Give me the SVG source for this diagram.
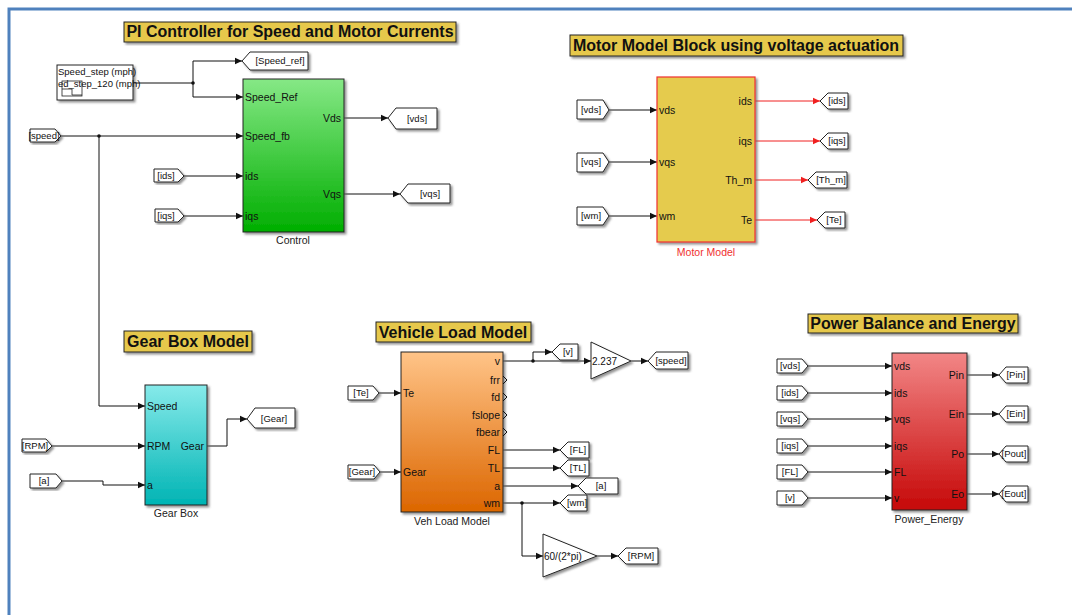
<svg xmlns="http://www.w3.org/2000/svg" width="1072" height="615" viewBox="0 0 1072 615">
<style>
text{font-family:"Liberation Sans",Arial,sans-serif;fill:#111}
.t{font-weight:bold;font-size:16px;text-anchor:middle}
.tb{fill:#E6C84C;stroke:#222;stroke-width:1}
.p{font-size:10.5px}
.pr{font-size:10.5px;text-anchor:end}
.cap{font-size:10.5px;text-anchor:middle;fill:#222}
.tag{fill:#fff;stroke:#222;stroke-width:1}
.tg{font-size:9.5px;text-anchor:middle}
.w{fill:none;stroke:#111;stroke-width:1}
.wa{fill:none;stroke:#111;stroke-width:1;marker-end:url(#ar)}
.wr{fill:none;stroke:#F02020;stroke-width:1;marker-end:url(#arr)}
.blk{stroke:#222;stroke-width:1}
.sh{filter:url(#ds)}
</style>
<defs>
<marker id="ar" markerWidth="8" markerHeight="8" refX="7" refY="4" orient="auto" markerUnits="userSpaceOnUse"><path d="M0,0.8 L7,4 L0,7.2 z" fill="#111"/></marker>
<marker id="arr" markerWidth="8" markerHeight="8" refX="7" refY="4" orient="auto" markerUnits="userSpaceOnUse"><path d="M0,0.8 L7,4 L0,7.2 z" fill="#F02020"/></marker>
<filter id="ds" x="-10%" y="-10%" width="130%" height="130%"><feDropShadow dx="2" dy="2" stdDeviation="1" flood-color="#666" flood-opacity="0.7"/></filter>
<linearGradient id="gG" x1="0" y1="0" x2="0" y2="1"><stop offset="0" stop-color="#86E886"/><stop offset="1" stop-color="#00AE00"/></linearGradient>
<linearGradient id="gC" x1="0" y1="0" x2="0" y2="1"><stop offset="0" stop-color="#86EAEA"/><stop offset="1" stop-color="#00B4B4"/></linearGradient>
<linearGradient id="gO" x1="0" y1="0" x2="0" y2="1"><stop offset="0" stop-color="#FFC488"/><stop offset="1" stop-color="#DC6600"/></linearGradient>
<linearGradient id="gR" x1="0" y1="0" x2="0" y2="1"><stop offset="0" stop-color="#F28686"/><stop offset="1" stop-color="#C60808"/></linearGradient>
</defs>
<rect width="1072" height="615" fill="#fff"/>
<path d="M9,615 V9 H1072" fill="none" stroke="#4F81BD" stroke-width="3"/>

<g id="titles">
<rect class="tb sh" x="124" y="22" width="332" height="20"/><text class="t" x="290" y="37">PI Controller for Speed and Motor Currents</text>
<rect class="tb sh" x="570" y="35" width="333" height="21"/><text class="t" x="736" y="51">Motor Model Block using voltage actuation</text>
<rect class="tb sh" x="124" y="331" width="128" height="21"/><text class="t" x="188" y="347">Gear Box Model</text>
<rect class="tb sh" x="376" y="322" width="155" height="20"/><text class="t" x="453" y="338">Vehicle Load Model</text>
<rect class="tb sh" x="808" y="314" width="210" height="19"/><text class="t" x="913" y="329">Power Balance and Energy</text>
</g>

<g id="connectors">
<path class="w" d="M133,83 H193"/>
<path class="wa" d="M193,83 V61 H242"/>
<path class="wa" d="M193,83 V97 H243"/>
<circle cx="193" cy="83" r="1.8" fill="#111"/>
<path class="wa" d="M344,118 H388"/>
<path class="wa" d="M344,194 H400"/>
<path class="wa" d="M61,136 H243"/>
<path class="wa" d="M99,136 V406 H145"/>
<circle cx="99" cy="136" r="1.8" fill="#111"/>
<path class="wa" d="M184,176 H243"/>
<path class="wa" d="M184,216 H243"/>
<path class="wa" d="M609,110 H657"/>
<path class="wa" d="M609,162 H657"/>
<path class="wa" d="M609,216 H657"/>
<path class="wr" d="M755,101 H820"/>
<path class="wr" d="M755,141 H820"/>
<path class="wr" d="M755,180 H808"/>
<path class="wr" d="M755,220 H817"/>
<path class="wa" d="M52,446 H145"/>
<path class="wa" d="M62,481 H103 V485 H145"/>
<path class="wa" d="M207,446 H227 V419 H247"/>
<path class="wa" d="M379,393 H401"/>
<path class="wa" d="M380,472 H401"/>
<path class="wa" d="M503,361 H591"/>
<path class="wa" d="M533,361 V352 H552"/>
<circle cx="533" cy="361" r="1.8" fill="#111"/>
<path class="wa" d="M631,361 H648"/>
<path class="wa" d="M503,450 H560"/>
<path class="wa" d="M503,468 H560"/>
<path class="wa" d="M503,486 H578"/>
<path class="wa" d="M503,503 H560"/>
<path class="wa" d="M522,503 V556 H543"/>
<circle cx="522" cy="503" r="1.8" fill="#111"/>
<path class="wa" d="M597,556 H618"/>
<path class="wa" d="M808,366 H892"/>
<path class="wa" d="M808,393 H892"/>
<path class="wa" d="M808,419 H892"/>
<path class="wa" d="M808,446 H892"/>
<path class="wa" d="M808,472 H892"/>
<path class="wa" d="M808,498 H892"/>
<path class="wa" d="M967,375 H999"/>
<path class="wa" d="M967,414 H999"/>
<path class="wa" d="M967,454 H999"/>
<path class="wa" d="M967,494 H999"/>
</g>

<g id="signal_builder">
<rect class="sh" x="57" y="65" width="76" height="35" fill="#fff" stroke="#222"/>
<text x="58" y="75" style="font-size:9.5px">Speed_step (mph)</text>
<text x="58" y="87" style="font-size:9.5px">ed_step_120 (mph)</text>
<rect x="62" y="81" width="20" height="15" fill="none" stroke="#222" stroke-width="0.8"/>
<path d="M62,89 H72 V95 H82" fill="none" stroke="#222" stroke-width="0.8"/>
</g>

<g id="control">
<rect class="blk sh" x="243" y="79" width="101" height="153" fill="url(#gG)"/>
<text class="p" x="245" y="101">Speed_Ref</text>
<text class="p" x="245" y="140">Speed_fb</text>
<text class="p" x="245" y="180">ids</text>
<text class="p" x="245" y="220">iqs</text>
<text class="pr" x="341" y="122">Vds</text>
<text class="pr" x="341" y="198">Vqs</text>
<text class="cap" x="293" y="244">Control</text>
</g>

<g id="pi_tags">
<polygon class="tag sh" points="242,61 250,52 308,52 308,70 250,70"/><text class="tg" x="280" y="64">[Speed_ref]</text>
<polygon class="tag sh" points="388,118 396,108 437,108 437,129 396,129"/><text class="tg" x="417" y="122">[vds]</text>
<polygon class="tag sh" points="400,194 408,184 450,184 450,203 408,203"/><text class="tg" x="430" y="197">[vqs]</text>
<polygon class="tag sh" points="30,129 55,129 61,136 55,142 30,142"/><text class="tg" x="44" y="139">[speed]</text>
<polygon class="tag sh" points="154,169 178,169 184,176 178,182 154,182"/><text class="tg" x="166" y="179">[ids]</text>
<polygon class="tag sh" points="155,209 178,209 184,216 178,222 155,222"/><text class="tg" x="166" y="219">[iqs]</text>
</g>

<g id="motor_model">
<rect class="sh" x="657" y="77" width="98" height="165" fill="#E5CB4D" stroke="#F03030" stroke-width="1.2"/>
<text class="p" x="659" y="114">vds</text>
<text class="p" x="659" y="166">vqs</text>
<text class="p" x="659" y="220">wm</text>
<text class="pr" x="752" y="105">ids</text>
<text class="pr" x="752" y="145">iqs</text>
<text class="pr" x="752" y="184">Th_m</text>
<text class="pr" x="752" y="224">Te</text>
<text class="cap" x="706" y="256" style="fill:#F03030">Motor Model</text>
</g>

<g id="motor_tags">
<polygon class="tag sh" points="577,100 603,100 609,110 603,119 577,119"/><text class="tg" x="591" y="113">[vds]</text>
<polygon class="tag sh" points="577,153 603,153 609,162 603,172 577,172"/><text class="tg" x="591" y="165">[vqs]</text>
<polygon class="tag sh" points="577,207 603,207 609,216 603,225 577,225"/><text class="tg" x="591" y="219">[wm]</text>
<polygon class="tag sh" points="820,101 828,93 848,93 848,109 828,109"/><text class="tg" x="837" y="104">[ids]</text>
<polygon class="tag sh" points="820,141 828,133 848,133 848,149 828,149"/><text class="tg" x="837" y="144">[iqs]</text>
<polygon class="tag sh" points="808,180 816,172 847,172 847,188 816,188"/><text class="tg" x="831" y="183">[Th_m]</text>
<polygon class="tag sh" points="817,220 825,212 845,212 845,228 825,228"/><text class="tg" x="834" y="223">[Te]</text>
</g>

<g id="gear_box">
<rect class="blk sh" x="145" y="385" width="62" height="120" fill="url(#gC)"/>
<text class="p" x="147" y="410">Speed</text>
<text class="p" x="147" y="450">RPM</text>
<text class="p" x="147" y="489">a</text>
<text class="pr" x="204" y="450">Gear</text>
<text class="cap" x="176" y="517">Gear Box</text>
</g>

<g id="gear_tags">
<polygon class="tag sh" points="22,439 46,439 52,446 46,452 22,452"/><text class="tg" x="35" y="449">[RPM]</text>
<polygon class="tag sh" points="30,474 56,474 62,481 56,488 30,488"/><text class="tg" x="44" y="484">[a]</text>
<polygon class="tag sh" points="247,419 255,408 295,408 295,428 255,428"/><text class="tg" x="274" y="422">[Gear]</text>
</g>

<g id="veh_load_model">
<rect class="blk sh" x="401" y="352" width="102" height="160" fill="url(#gO)"/>
<text class="p" x="403" y="397">Te</text>
<text class="p" x="403" y="476">Gear</text>
<text class="pr" x="500" y="365">v</text>
<text class="pr" x="500" y="384">frr</text>
<text class="pr" x="500" y="401">fd</text>
<text class="pr" x="500" y="419">fslope</text>
<text class="pr" x="500" y="436">fbear</text>
<text class="pr" x="500" y="454">FL</text>
<text class="pr" x="500" y="472">TL</text>
<text class="pr" x="500" y="490">a</text>
<text class="pr" x="500" y="507">wm</text>
<path d="M503,376 L507,380 L503,384 M503,393 L507,397 L503,401 M503,411 L507,415 L503,419 M503,428 L507,432 L503,436" fill="none" stroke="#111"/>
<text class="cap" x="452" y="525">Veh Load Model</text>
</g>

<g id="gain_2237">
<polygon class="sh" points="591,342 631,361 591,379" fill="#fff" stroke="#222"/>
<text x="592" y="365" style="font-size:10px">2.237</text>
</g>

<g id="gain_rpm">
<polygon class="sh" points="543,534 597,556 543,577" fill="#fff" stroke="#222"/>
<text x="544" y="560" style="font-size:10px">60/(2*pi)</text>
</g>

<g id="veh_tags">
<polygon class="tag sh" points="348,386 373,386 379,393 373,400 348,400"/><text class="tg" x="361" y="396">[Te]</text>
<polygon class="tag sh" points="348,465 374,465 380,472 374,479 348,479"/><text class="tg" x="362" y="475">[Gear]</text>
<polygon class="tag sh" points="552,352 560,344 578,344 578,360 560,360"/><text class="tg" x="568" y="355">[v]</text>
<polygon class="tag sh" points="648,361 656,352 688,352 688,369 656,369"/><text class="tg" x="671" y="364">[speed]</text>
<polygon class="tag sh" points="560,450 568,442 589,442 589,458 568,458"/><text class="tg" x="578" y="453">[FL]</text>
<polygon class="tag sh" points="560,468 568,460 589,460 589,476 568,476"/><text class="tg" x="578" y="471">[TL]</text>
<polygon class="tag sh" points="578,486 586,478 618,478 618,494 586,494"/><text class="tg" x="601" y="489">[a]</text>
<polygon class="tag sh" points="560,503 568,495 587,495 587,511 568,511"/><text class="tg" x="577" y="506">[wm]</text>
<polygon class="tag sh" points="618,556 626,548 658,548 658,564 626,564"/><text class="tg" x="641" y="559">[RPM]</text>
</g>

<g id="power_energy">
<rect class="blk sh" x="892" y="353" width="75" height="157" fill="url(#gR)"/>
<text class="p" x="894" y="370">vds</text>
<text class="p" x="894" y="397">ids</text>
<text class="p" x="894" y="423">vqs</text>
<text class="p" x="894" y="450">iqs</text>
<text class="p" x="894" y="476">FL</text>
<text class="p" x="894" y="502">v</text>
<text class="pr" x="964" y="379">Pin</text>
<text class="pr" x="964" y="418">Ein</text>
<text class="pr" x="964" y="458">Po</text>
<text class="pr" x="964" y="498">Eo</text>
<text class="cap" x="929" y="523">Power_Energy</text>
</g>

<g id="power_tags">
<polygon class="tag sh" points="777,359 802,359 808,366 802,373 777,373"/><text class="tg" x="790" y="369">[vds]</text>
<polygon class="tag sh" points="777,386 802,386 808,393 802,400 777,400"/><text class="tg" x="790" y="396">[ids]</text>
<polygon class="tag sh" points="777,412 802,412 808,419 802,426 777,426"/><text class="tg" x="790" y="422">[vqs]</text>
<polygon class="tag sh" points="777,439 802,439 808,446 802,453 777,453"/><text class="tg" x="790" y="449">[iqs]</text>
<polygon class="tag sh" points="777,465 802,465 808,472 802,479 777,479"/><text class="tg" x="790" y="475">[FL]</text>
<polygon class="tag sh" points="777,491 802,491 808,498 802,505 777,505"/><text class="tg" x="790" y="501">[v]</text>
<polygon class="tag sh" points="999,375 1006,367 1028,367 1028,383 1006,383"/><text class="tg" x="1016" y="378">[Pin]</text>
<polygon class="tag sh" points="999,414 1006,406 1028,406 1028,422 1006,422"/><text class="tg" x="1016" y="417">[Ein]</text>
<polygon class="tag sh" points="999,454 1006,446 1028,446 1028,462 1006,462"/><text class="tg" x="1014" y="457">[Pout]</text>
<polygon class="tag sh" points="999,494 1006,486 1028,486 1028,502 1006,502"/><text class="tg" x="1014" y="497">[Eout]</text>
</g>
</svg>
